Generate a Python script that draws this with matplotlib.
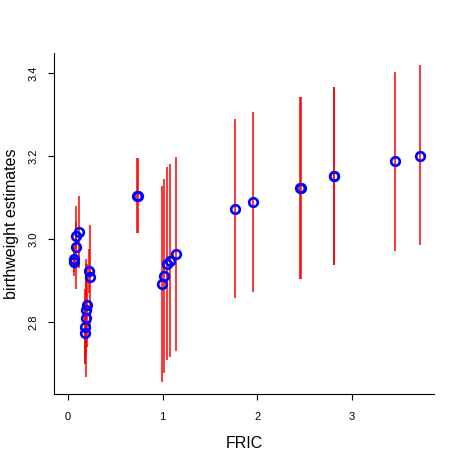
import matplotlib
matplotlib.use("Agg")
import matplotlib.pyplot as plt

plt.rcParams['font.family'] = ['Liberation Sans', 'DejaVu Sans']

# FRIC value, point estimate and interval ends
fric = [0.116, 0.081, 0.085, 0.063, 0.063,
        0.228, 0.222, 0.205, 0.195, 0.195, 0.177, 0.180,
        0.726, 0.736,
        0.997, 1.012, 1.050, 1.082, 1.139,
        1.765, 1.956, 2.452, 2.462, 2.807, 2.817, 3.461, 3.718]
est = [3.018, 3.008, 2.980, 2.953, 2.945,
       2.908, 2.923, 2.841, 2.830, 2.810, 2.789, 2.773,
       3.104, 3.104,
       2.891, 2.911, 2.941, 2.948, 2.963,
       3.073, 3.089, 3.124, 3.124, 3.152, 3.152, 3.188, 3.201]
lower = [2.930, 2.975, 2.879, 2.920, 2.912,
         2.782, 2.870, 2.740, 2.720, 2.668, 2.700, 2.700,
         3.014, 3.014,
         2.655, 2.678, 2.708, 2.716, 2.730,
         2.857, 2.873, 2.904, 2.904, 2.937, 2.937, 2.972, 2.986]
upper = [3.104, 3.040, 3.080, 2.985, 2.978,
         3.034, 2.975, 2.940, 2.940, 2.952, 2.880, 2.850,
         3.195, 3.195,
         3.128, 3.144, 3.173, 3.181, 3.197,
         3.289, 3.306, 3.343, 3.343, 3.366, 3.366, 3.403, 3.418]

xticks = [0, 1, 2, 3]
yticks = [2.8, 3.0, 3.2, 3.4]

fig = plt.figure(figsize=(4.62, 4.62), dpi=100)
ax = fig.add_axes([54 / 462, 68 / 462, 380 / 462, 341 / 462])

ax.vlines(fric, lower, upper, color='red', lw=1.1, zorder=2)
ax.plot(fric, est, 'o', ms=6.2, mfc='none', mec='blue', mew=1.9, zorder=3)

ax.set_xlim(-0.148, 3.869)
ax.set_ylim(2.627, 3.448)
ax.set_xticks(xticks)
ax.set_xticklabels([str(t) for t in xticks])
ax.set_yticks(yticks)
ax.set_yticklabels(['%.1f' % t for t in yticks], rotation=90, va='center')

for s in ['top', 'right']:
    ax.spines[s].set_visible(False)
for s in ['left', 'bottom']:
    ax.spines[s].set_linewidth(0.8)

ax.tick_params(direction='out', length=4, width=0.8, labelsize=8, pad=7)
ax.tick_params(axis='x', pad=9)

ax.set_xlabel('FRIC', fontsize=11.5, labelpad=10)
ax.set_ylabel('birthweight estimates', fontsize=11.5, labelpad=7)

fig.savefig('out.png', dpi=100)
